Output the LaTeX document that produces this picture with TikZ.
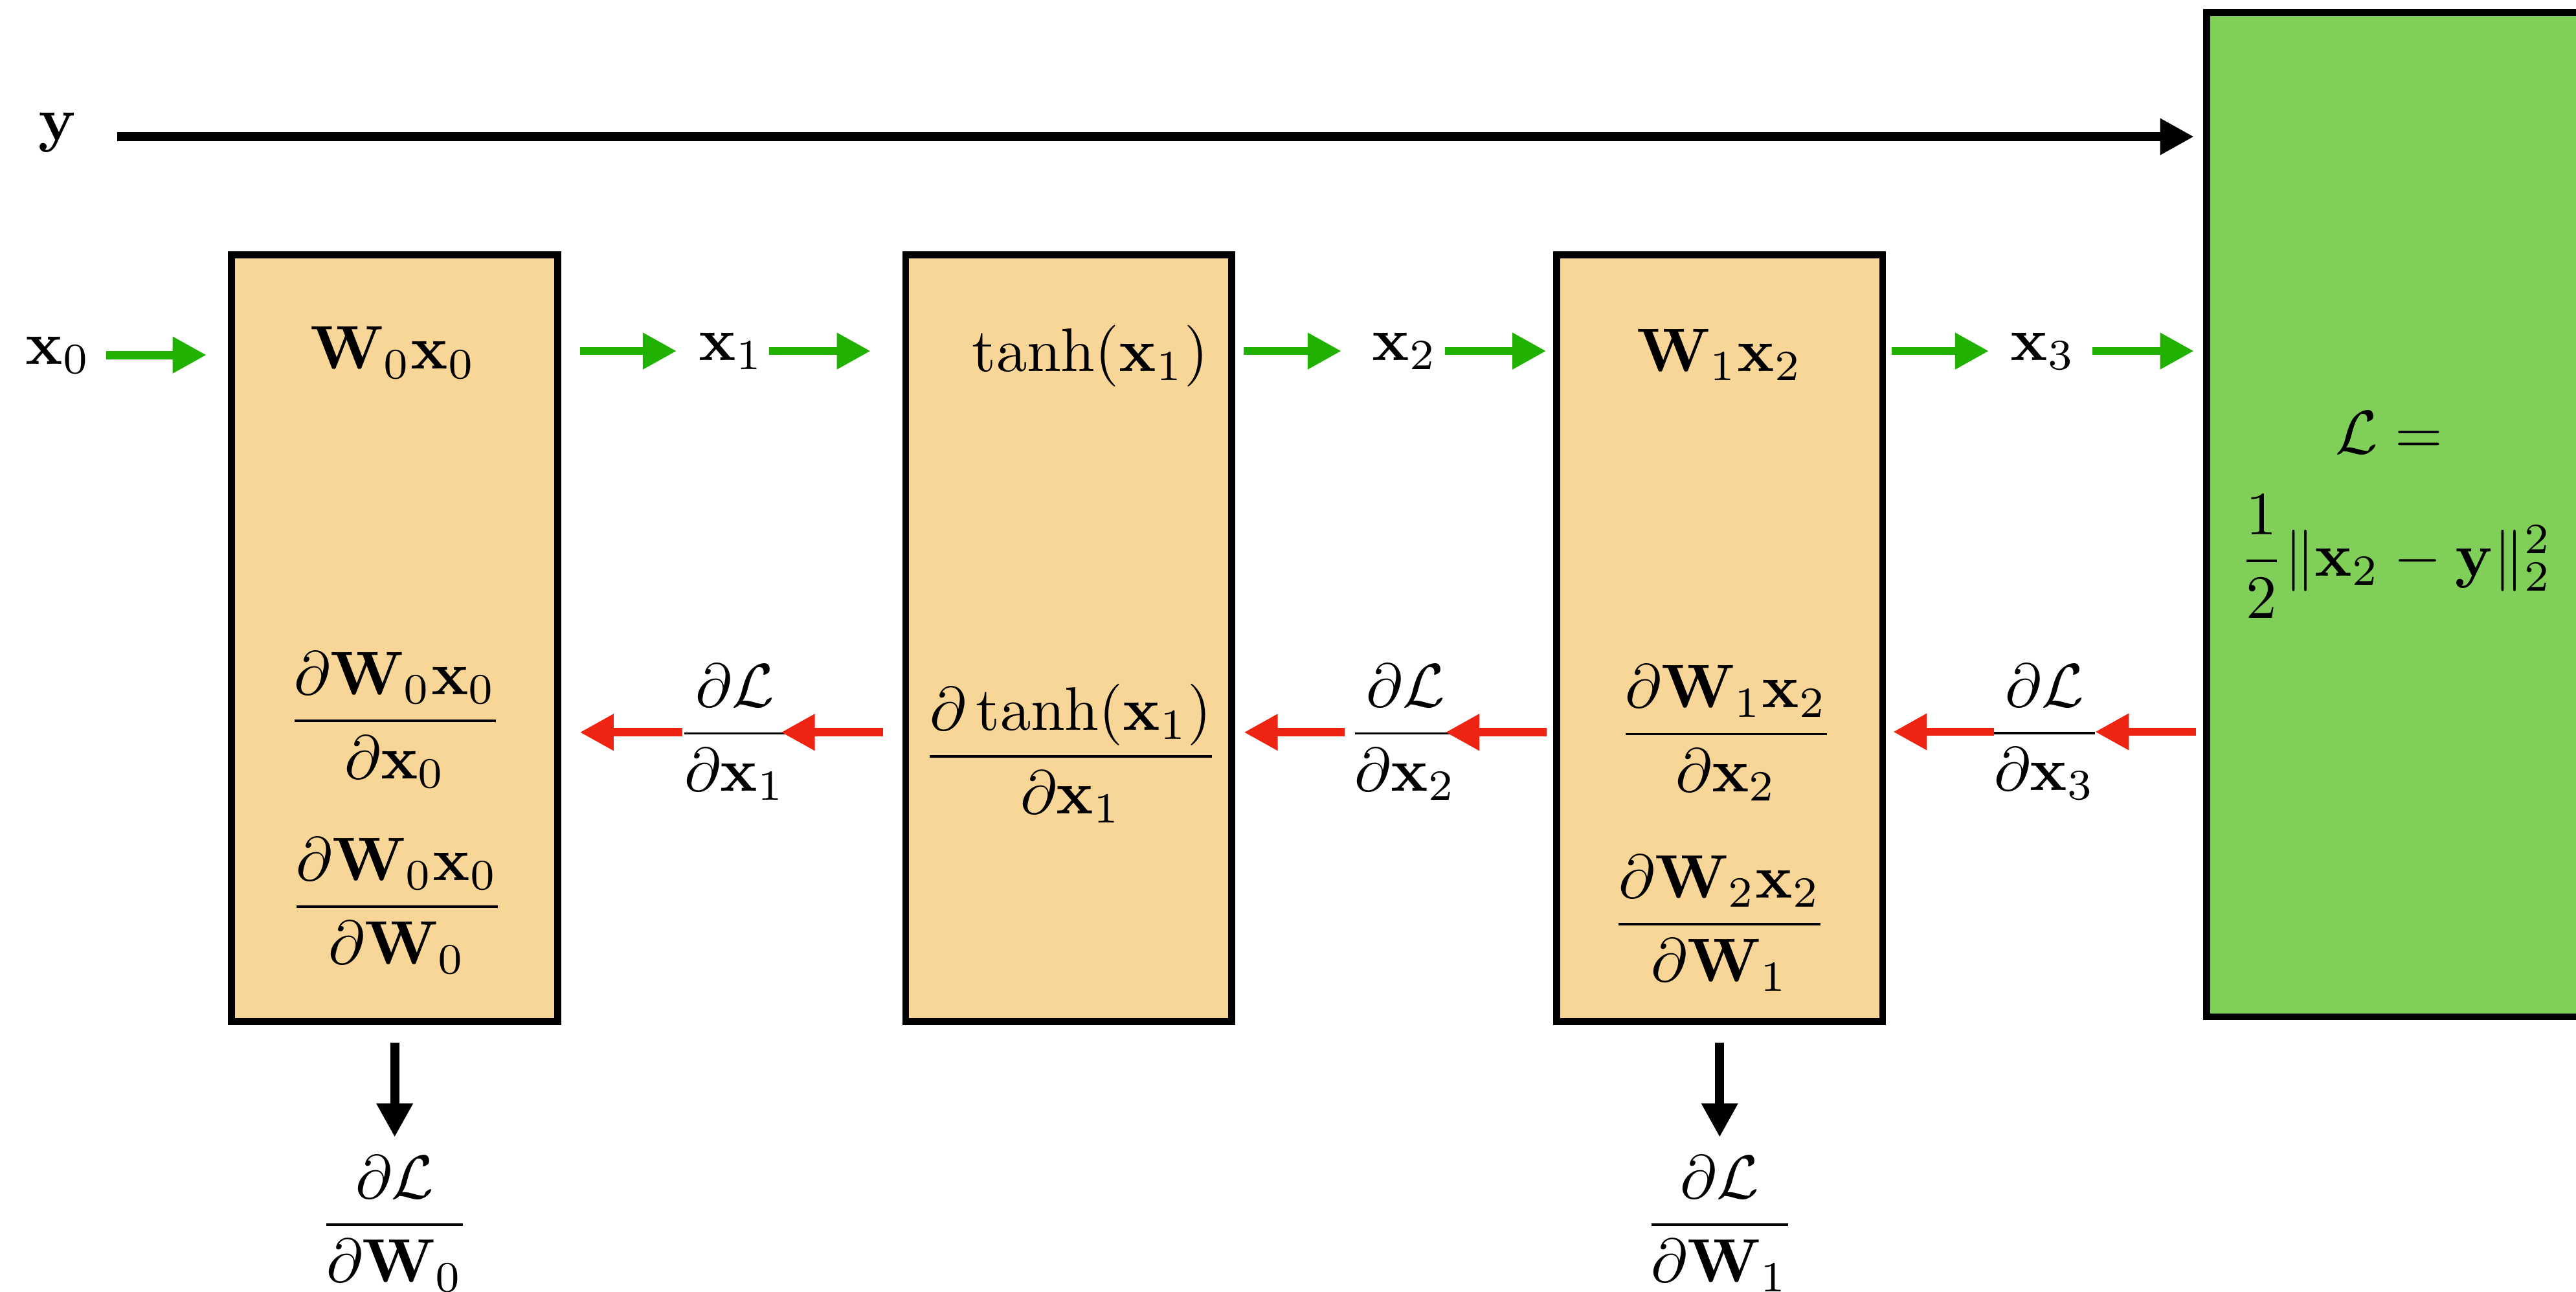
\documentclass[tikz,border=0pt]{standalone}
\usepackage{amsmath}
\usetikzlibrary{arrows.meta}
\definecolor{boxfill}{RGB}{247,214,152}
\definecolor{lossfill}{RGB}{128,207,88}
\definecolor{fwdgreen}{RGB}{33,177,0}
\definecolor{bwdred}{RGB}{238,35,18}
\begin{document}
\begin{tikzpicture}[x=0.2671pt,y=-0.2671pt,
  lbl/.style={inner sep=0pt, outer sep=0pt},
  stage/.style={draw=black, line width=1.15pt, fill=boxfill, inner sep=0pt, outer sep=0pt,
    minimum width=53.0pt, minimum height=124.6pt},
  lossbox/.style={draw=black, line width=1.15pt, fill=lossfill, inner sep=0pt, outer sep=0pt,
    minimum width=61.9pt, minimum height=163.25pt},
  tip/.style={-{Triangle[length=5.5pt,width=5.6pt]}},
  fwd/.style={tip, draw=fwdgreen, line width=1.35pt},
  bwd/.style={tip, draw=bwdred, line width=1.35pt},
  blk/.style={tip, draw=black, line width=1.45pt}]
\useasboundingbox (0,0) rectangle (1568,786);
\clip (0,0) rectangle (1568,786);

% layers and loss block
\node[stage] (box1) at (240.25,388.25) {};
\node[stage] (box2) at (650.5,388.25) {};
\node[stage] (box3) at (1046.75,388.25) {};
\node[lossbox] (loss) at (1459.15,313.1) {};

% forward expressions
\node[lbl, anchor=base] (fw0) at (239.3,224.6) {$\mathbf{W}_0\mathbf{x}_0$};
\node[lbl, anchor=base] (fw1) at (663.6,225.9) {$\tanh(\mathbf{x}_1)$};
\node[lbl, anchor=base] (fw2) at (1046.7,225.9) {$\mathbf{W}_1\mathbf{x}_2$};

% local derivatives
\node[lbl] (b0x) at (240.6,438) {$\dfrac{\partial\mathbf{W}_0\mathbf{x}_0}{\partial\mathbf{x}_0}$};
\node[lbl] (b0w) at (241.7,551) {$\dfrac{\partial\mathbf{W}_0\mathbf{x}_0}{\partial\mathbf{W}_0}$};
\node[lbl] (b1x) at (651.8,458.5) {$\dfrac{\partial\tanh(\mathbf{x}_1)}{\partial\mathbf{x}_1}$};
\node[lbl] (b2x) at (1050.7,446) {$\dfrac{\partial\mathbf{W}_1\mathbf{x}_2}{\partial\mathbf{x}_2}$};
\node[lbl] (b2w) at (1046.7,561.7) {$\dfrac{\partial\mathbf{W}_2\mathbf{x}_2}{\partial\mathbf{W}_1}$};

% loss
\node[lbl, anchor=base] (lossa) at (1454.4,275.9) {$\mathcal{L} =$};
\node[lbl] (lossb) at (1458,338.6) {$\dfrac{1}{2}\|\mathbf{x}_2-\mathbf{y}\|_2^2$};

% signals
\node[lbl, anchor=base] (ylab) at (35,85.4) {$\mathbf{y}$};
\node[lbl] (x0) at (35.3,216) {$\mathbf{x}_0$};
\node[lbl] (x1) at (445.1,213.6) {$\mathbf{x}_1$};
\node[lbl] (x2) at (855,213.6) {$\mathbf{x}_2$};
\node[lbl] (x3) at (1243.5,213.6) {$\mathbf{x}_3$};

% gradients
\node[lbl] (g1) at (447.3,445.6) {$\dfrac{\partial\mathcal{L}}{\partial\mathbf{x}_1}$};
\node[lbl] (g2) at (855.5,445.6) {$\dfrac{\partial\mathcal{L}}{\partial\mathbf{x}_2}$};
\node[lbl] (g3) at (1244.5,445.3) {$\dfrac{\partial\mathcal{L}}{\partial\mathbf{x}_3}$};
\node[lbl] (dw0) at (240.25,744.5) {$\dfrac{\partial\mathcal{L}}{\partial\mathbf{W}_0}$};
\node[lbl] (dw1) at (1046.75,744.5) {$\dfrac{\partial\mathcal{L}}{\partial\mathbf{W}_1}$};

% target
\coordinate (yarr) at ([yshift=0.6pt]ylab.base east);
\draw[blk, shorten <=6.6pt, shorten >=2.1pt] (yarr) -- (yarr -| loss.west);

% forward pass
\draw[fwd, shorten <=2.6pt, shorten >=4.1pt] (x0.east) -- (x0.east -| box1.west);
\draw[fwd, shorten <=3.6pt, shorten >=3.6pt] (box1.east |- x1) -- (x1.west);
\draw[fwd, shorten <=0.9pt, shorten >=5.7pt] (x1.east) -- (x1.east -| box2.west);
\draw[fwd, shorten <=2pt, shorten >=5pt] (box2.east |- x2) -- (x2.west);
\draw[fwd, shorten <=1.3pt, shorten >=1.7pt] (x2.east) -- (x2.east -| box3.west);
\draw[fwd, shorten <=1.5pt, shorten >=3.5pt] (box3.east |- x3) -- (x3.west);
\draw[fwd, shorten <=2.8pt, shorten >=2.1pt] (x3.east) -- (x3.east -| loss.west);

% backward pass
\draw[bwd, shorten <=1.8pt, shorten >=-1.2pt] (loss.west |- g3) -- (g3.east);
\draw[bwd, shorten <=-1.2pt, shorten >=1.7pt] (g3.west) -- (g3.west -| box3.east);
\draw[bwd, shorten <=1.6pt, shorten >=-2.9pt] (box3.west |- g2) -- (g2.east);
\draw[bwd, shorten <=0.5pt, shorten >=2pt] (g2.west) -- (g2.west -| box2.east);
\draw[bwd, shorten <=3.7pt, shorten >=-1.9pt] (box2.west |- g1) -- (g1.east);
\draw[bwd, shorten <=-0.9pt, shorten >=3.6pt] (g1.west) -- (g1.west -| box1.east);

% parameter gradients
\draw[blk, shorten <=3.5pt, shorten >=3pt] (box1.south) -- (dw0.north);
\draw[blk, shorten <=3.5pt, shorten >=3pt] (box3.south) -- (dw1.north);
\end{tikzpicture}
\end{document}
